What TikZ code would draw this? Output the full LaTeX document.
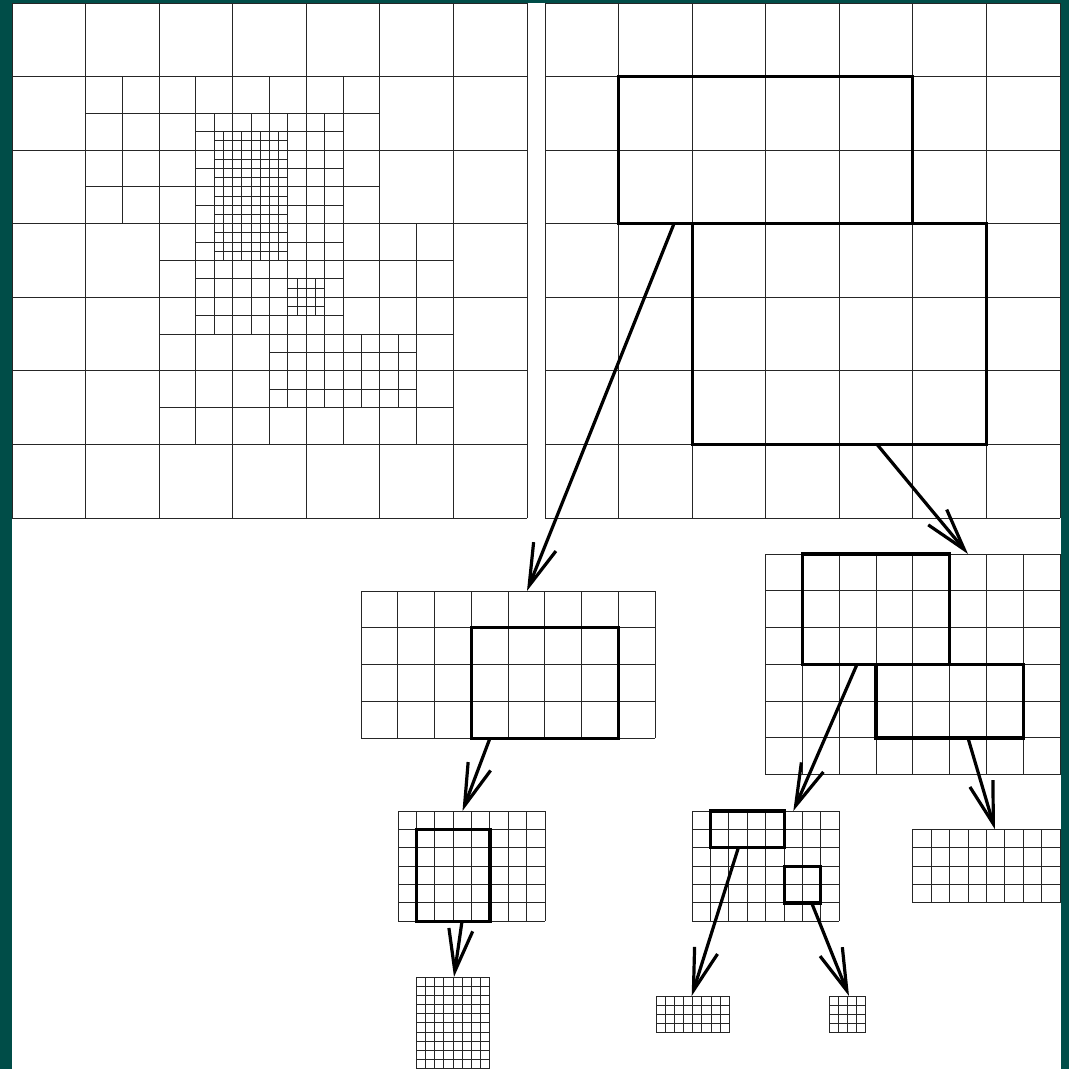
\documentclass[tikz,border=0pt]{standalone}
\usetikzlibrary{arrows.meta}
\definecolor{frameteal}{RGB}{0,77,72}
\def\cs{73.5714}
\def\hs{36.7857}
\def\qs{18.3929}
\def\es{9.19643}
\newcommand\mkgridlines[7]{% x0,y0,size,i0,i1,j0,j1
  \foreach \i in {#4,...,#5} \draw[thinline] ({#1+\i*#3},{#2+#6*#3}) -- ({#1+\i*#3},{#2+#7*#3});
  \foreach \j in {#6,...,#7} \draw[thinline] ({#1+#4*#3},{#2+\j*#3}) -- ({#1+#5*#3},{#2+\j*#3});
}
\newcommand\gridnode[6]{% name,x,y,cols,rows,size
  \node[gridbox, minimum width={#4*#6pt}, minimum height={#5*#6pt}] (#1) at (#2,#3) {};
  \mkgridlines{#2}{#3}{#6}{0}{#4}{0}{#5}
}
\newcommand\thickrect[6]{% name,x,y,w,h,size
  \node[thickbox, minimum width={#4*#6pt}, minimum height={#5*#6pt}] (#1) at (#2,#3) {};
}
\begin{document}
\begin{tikzpicture}[x=1pt,y=-1pt,
  thinline/.style={line width=1pt, draw=black!85},
  gridbox/.style={inner sep=0pt, outer sep=0pt, rectangle, anchor=north west},
  thickbox/.style={draw=black, line width=3.2pt, inner sep=0pt, outer sep=0pt, rectangle, anchor=north west},
  arr/.style={line width=3.2pt, -{Straight Barb[length=42pt,width=24pt,line width=3.2pt]}}]
\useasboundingbox (0,0) rectangle (1069,1069);
\fill[frameteal] (0,0) rectangle (1069,1069);
\fill[white] (12,3) rectangle (1061,1069);
\begin{scope}
\clip (0,0) rectangle (1069,1069);
% left hierarchical grid
\node[gridbox, minimum width={7*\cs pt}, minimum height={7*\cs pt}] (gL) at (12,3) {};
\mkgridlines{12}{3}{\cs}{0}{7}{0}{7}
\mkgridlines{12}{3}{\hs}{2}{10}{2}{6}
\mkgridlines{12}{3}{\hs}{4}{12}{6}{12}
\mkgridlines{12}{3}{\qs}{10}{18}{6}{18}
\mkgridlines{12}{3}{\qs}{14}{22}{18}{22}
\mkgridlines{12}{3}{\es}{22}{30}{14}{28}
\mkgridlines{12}{3}{\es}{30}{34}{30}{34}
% right coarse grid
\gridnode{gR}{545}{3}{7}{7}{\cs}
% child grids
\gridnode{gA}{361}{591}{8}{4}{\hs}
\gridnode{gB}{765.71}{554}{8}{6}{\hs}
\gridnode{gAA}{398}{811}{8}{6}{\qs}
\gridnode{gAAA}{416.4}{977}{8}{10}{\es}
\gridnode{gBA}{692.14}{811}{8}{6}{\qs}
\gridnode{gBB}{912.86}{829.4}{8}{4}{\qs}
\gridnode{gBAA}{656}{996}{8}{4}{\es}
\gridnode{gBAB}{829}{996}{4}{4}{\es}
% thick patch outlines
\thickrect{r1}{618.57}{76.57}{4}{2}{\cs}
\thickrect{r2}{692.14}{223.71}{4}{3}{\cs}
\thickrect{rA}{471.36}{627.79}{4}{3}{\hs}
\thickrect{rB1}{802.5}{554}{4}{3}{\hs}
\thickrect{rB2}{876.07}{664.36}{4}{2}{\hs}
\thickrect{rAA}{416.39}{829.39}{4}{5}{\qs}
\thickrect{rBa}{710.53}{811}{4}{2}{\qs}
\thickrect{rBb}{784.1}{866.18}{2}{2}{\qs}
% arrows
\draw[arr] ([xshift=55.4pt]r1.south west) -- ([xshift=166pt]gA.north west);
\draw[arr] ([xshift=184.9pt]r2.south west) -- ([xshift=202.3pt]gB.north west);
\draw[arr] ([xshift=18.6pt]rA.south west) -- ([xshift=64.5pt]gAA.north west);
\draw[arr] ([xshift=45.6pt]rAA.south west) -- ([xshift=37.6pt]gAAA.north west);
\draw[arr] ([xshift=54.5pt]rB1.south west) -- ([xshift=101.2pt]gBA.north west);
\draw[arr] ([xshift=91.9pt]rB2.south west) -- ([xshift=82.1pt]gBB.north west);
\draw[arr] ([xshift=27.8pt]rBa.south west) -- ([xshift=35.7pt]gBAA.north west);
\draw[arr] ([xshift=27.6pt]rBb.south west) -- ([xshift=20pt]gBAB.north west);
\end{scope}
\end{tikzpicture}
\end{document}
